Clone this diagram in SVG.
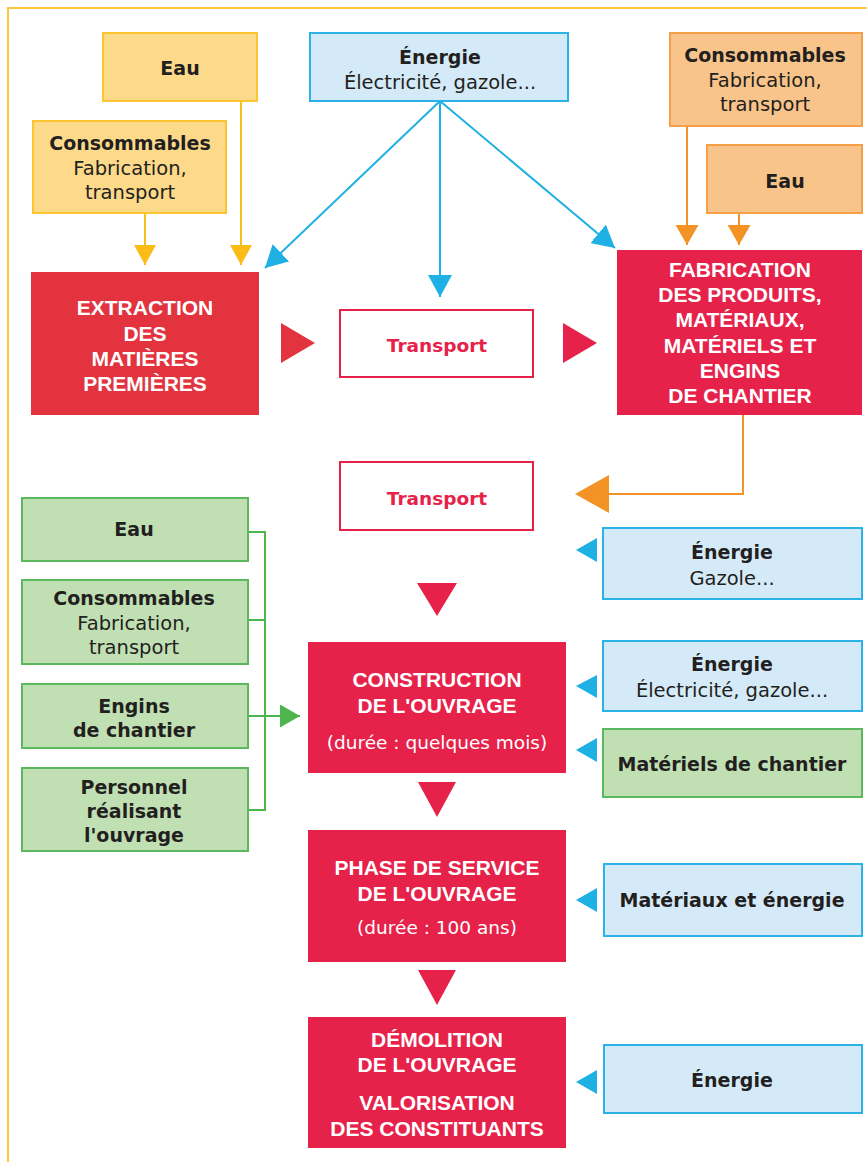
<svg xmlns="http://www.w3.org/2000/svg" width="867" height="1162" viewBox="0 0 867 1162">
<style>
.t{font-family:"DejaVu Sans","Liberation Sans",sans-serif;fill:#231f20;text-anchor:middle;font-size:19.5px}
.b{font-weight:bold;font-size:19px}
.w{font-family:"Liberation Sans",Arial,sans-serif;fill:#ffffff;font-weight:bold;font-size:21px}
.wr{fill:#ffffff;font-weight:normal;font-size:18.5px}
.r{fill:#e6224a;font-weight:bold;font-size:18.5px}
.yb{fill:#fdd98a;stroke:#fcc530;stroke-width:2}
.ob{fill:#f9c48a;stroke:#f5a049;stroke-width:2}
.bb{fill:#d5eaf8;stroke:#2bb3e6;stroke-width:2}
.gb{fill:#c0e0b4;stroke:#5cb85c;stroke-width:2}
.rb{fill:#e6224a}
.tb{fill:#ffffff;stroke:#e6224a;stroke-width:2}
.yl{stroke:#fbbc18;stroke-width:2;fill:none}
.ol{stroke:#f39325;stroke-width:2;fill:none}
.bl{stroke:#1fb0e4;stroke-width:2;fill:none}
.gl{stroke:#4db54b;stroke-width:2;fill:none}
</style>
<defs>
<marker id="ay" markerUnits="userSpaceOnUse" markerWidth="20" markerHeight="22" refX="20" refY="11" orient="auto"><path d="M0,0 L20,11 L0,22 z" fill="#fbbc18"/></marker>
<marker id="ao" markerUnits="userSpaceOnUse" markerWidth="20" markerHeight="23" refX="20" refY="11.5" orient="auto"><path d="M0,0 L20,11.5 L0,23 z" fill="#f39325"/></marker>
<marker id="ab" markerUnits="userSpaceOnUse" markerWidth="22" markerHeight="24" refX="22" refY="12" orient="auto"><path d="M0,0 L22,12 L0,24 z" fill="#1fb0e4"/></marker>
<marker id="ag" markerUnits="userSpaceOnUse" markerWidth="20" markerHeight="23" refX="20" refY="11.5" orient="auto"><path d="M0,0 L20,11.5 L0,23 z" fill="#4db54b"/></marker>
</defs>
<rect x="8" y="8" width="900" height="1200" fill="none" stroke="#fcc83a" stroke-width="2"/>

<g id="connectors">
<line class="yl" x1="145" y1="213" x2="145" y2="265" marker-end="url(#ay)"/>
<line class="yl" x1="241" y1="101" x2="241" y2="265" marker-end="url(#ay)"/>
<line class="bl" x1="440" y1="101" x2="265" y2="268" marker-end="url(#ab)"/>
<line class="bl" x1="440" y1="101" x2="440" y2="297" marker-end="url(#ab)"/>
<line class="bl" x1="440" y1="101" x2="615" y2="248" marker-end="url(#ab)"/>
<line class="ol" x1="687" y1="126" x2="687" y2="245" marker-end="url(#ao)"/>
<line class="ol" x1="739" y1="213" x2="739" y2="245" marker-end="url(#ao)"/>
<polyline class="ol" points="743,415 743,494 605,494"/>
<polygon points="609,475 609,513 575,494" fill="#f39325"/>
<polygon points="281,323 281,363 315,343" fill="#e3333f"/>
<polygon points="563,323 563,363 597,343" fill="#e6224a"/>
<polygon points="417,583 457,583 437,616" fill="#e6224a"/>
<polygon points="418,782 456,782 437,817" fill="#e6224a"/>
<polygon points="418,970 456,970 437,1005" fill="#e6224a"/>
<polyline class="gl" points="248,532 265,532 265,810 248,810"/>
<line class="gl" x1="248" y1="620" x2="265" y2="620"/>
<line class="gl" x1="248" y1="716" x2="300" y2="716" marker-end="url(#ag)"/>
<polygon points="597,538 597,562 576,550" fill="#1fb0e4"/>
<polygon points="597,675 597,698 576,686" fill="#1fb0e4"/>
<polygon points="597,738 597,762 576,750" fill="#1fb0e4"/>
<polygon points="597,888 597,912 576,900" fill="#1fb0e4"/>
<polygon points="597,1070 597,1094 576,1082" fill="#1fb0e4"/>
</g>

<g id="eau-y"><rect class="yb" x="103" y="33" width="154" height="68"/><text class="t b" x="180" y="75">Eau</text></g>
<g id="cons-y"><rect class="yb" x="33" y="121" width="193" height="92"/><text class="t b" x="130" y="150">Consommables</text><text class="t" x="130" y="175">Fabrication,</text><text class="t" x="130" y="199">transport</text></g>
<g id="energie-top"><rect class="bb" x="310" y="33" width="258" height="68"/><text class="t b" x="440" y="64">Énergie</text><text class="t" x="440" y="89">Électricité, gazole...</text></g>
<g id="cons-o"><rect class="ob" x="670" y="33" width="192" height="93"/><text class="t b" x="765" y="62">Consommables</text><text class="t" x="765" y="87">Fabrication,</text><text class="t" x="765" y="111">transport</text></g>
<g id="eau-o"><rect class="ob" x="707" y="145" width="155" height="68"/><text class="t b" x="785" y="188">Eau</text></g>

<g id="extraction"><rect x="31" y="272" width="228" height="143" fill="#e3333f"/>
<text class="t w" x="145" y="315">EXTRACTION</text><text class="t w" x="145" y="341">DES</text><text class="t w" x="145" y="366">MATIÈRES</text><text class="t w" x="145" y="391">PREMIÈRES</text></g>
<g id="transport1"><rect class="tb" x="340" y="310" width="193" height="67"/><text class="t r" x="437" y="352">Transport</text></g>
<g id="fabrication"><rect class="rb" x="617" y="250" width="245" height="165"/>
<text class="t w" x="740" y="277">FABRICATION</text><text class="t w" x="740" y="302">DES PRODUITS,</text><text class="t w" x="740" y="327">MATÉRIAUX,</text><text class="t w" x="740" y="353">MATÉRIELS ET</text><text class="t w" x="740" y="378">ENGINS</text><text class="t w" x="740" y="403">DE CHANTIER</text></g>
<g id="transport2"><rect class="tb" x="340" y="462" width="193" height="68"/><text class="t r" x="437" y="505">Transport</text></g>

<g id="eau-g"><rect class="gb" x="22" y="498" width="226" height="63"/><text class="t b" x="134" y="536">Eau</text></g>
<g id="cons-g"><rect class="gb" x="22" y="580" width="226" height="84"/><text class="t b" x="134" y="605">Consommables</text><text class="t" x="134" y="630">Fabrication,</text><text class="t" x="134" y="654">transport</text></g>
<g id="engins-g"><rect class="gb" x="22" y="684" width="226" height="64"/><text class="t b" x="134" y="713">Engins</text><text class="t b" x="134" y="737">de chantier</text></g>
<g id="personnel-g"><rect class="gb" x="22" y="768" width="226" height="83"/><text class="t b" x="134" y="794">Personnel</text><text class="t b" x="134" y="818">réalisant</text><text class="t b" x="134" y="842">l'ouvrage</text></g>

<g id="energie-gazole"><rect class="bb" x="603" y="528" width="259" height="71"/><text class="t b" x="732" y="559">Énergie</text><text class="t" x="732" y="585">Gazole...</text></g>
<g id="construction"><rect class="rb" x="308" y="642" width="258" height="131"/>
<text class="t w" x="437" y="687">CONSTRUCTION</text><text class="t w" x="437" y="713">DE L'OUVRAGE</text><text class="t wr" x="437" y="749">(durée : quelques mois)</text></g>
<g id="energie-elec"><rect class="bb" x="603" y="641" width="259" height="70"/><text class="t b" x="732" y="671">Énergie</text><text class="t" x="732" y="697">Électricité, gazole...</text></g>
<g id="materiels"><rect class="gb" x="603" y="729" width="259" height="68"/><text class="t b" x="732" y="771">Matériels de chantier</text></g>
<g id="phase"><rect class="rb" x="308" y="830" width="258" height="132"/>
<text class="t w" x="437" y="875">PHASE DE SERVICE</text><text class="t w" x="437" y="901">DE L'OUVRAGE</text><text class="t wr" x="437" y="934">(durée : 100 ans)</text></g>
<g id="materiaux"><rect class="bb" x="604" y="864" width="258" height="72"/><text class="t b" x="732" y="907">Matériaux et énergie</text></g>
<g id="demolition"><rect class="rb" x="308" y="1017" width="258" height="131"/>
<text class="t w" x="437" y="1047">DÉMOLITION</text><text class="t w" x="437" y="1072">DE L'OUVRAGE</text><text class="t w" x="437" y="1110">VALORISATION</text><text class="t w" x="437" y="1136">DES CONSTITUANTS</text></g>
<g id="energie-demo"><rect class="bb" x="604" y="1045" width="258" height="68"/><text class="t b" x="732" y="1087">Énergie</text></g>
</svg>
